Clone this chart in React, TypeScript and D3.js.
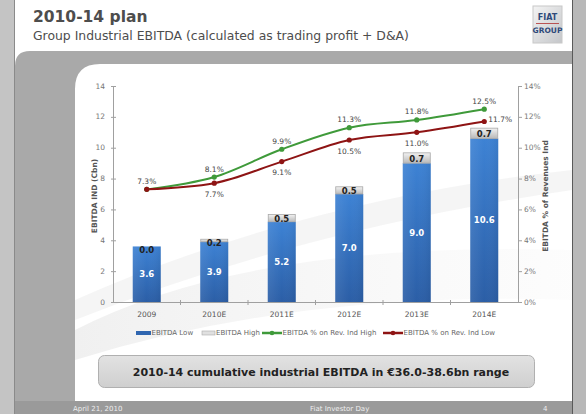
import React from "react";
import * as d3 from "d3";

const years = ["2009", "2010E", "2011E", "2012E", "2013E", "2014E"];
const ebitdaLow = [3.6, 3.9, 5.2, 7.0, 9.0, 10.6];
const ebitdaHigh = [0.0, 0.2, 0.5, 0.5, 0.7, 0.7];
const pctHigh = [7.3, 8.1, 9.9, 11.3, 11.8, 12.5];
const pctLow = [7.3, 7.7, 9.1, 10.5, 11.0, 11.7];
const leftTicks = [0, 2, 4, 6, 8, 10, 12, 14];
const rightTicks = [0, 2, 4, 6, 8, 10, 12, 14];

const W = 586;
const H = 414;
const FONT = "'DejaVu Sans', Verdana, sans-serif";

export default function App() {
  const x = d3
    .scaleBand<string>()
    .domain(years)
    .range([113, 518])
    .paddingInner(0.585)
    .paddingOuter(0.2925);
  const yL = d3.scaleLinear().domain([0, 14]).range([302, 86]);
  const yR = d3.scaleLinear().domain([0, 14]).range([302, 86]);
  const cx = (y: string) => (x(y) as number) + x.bandwidth() / 2;

  const line = d3
    .line<number>()
    .x((_, i) => cx(years[i]))
    .y((d) => yR(d))
    .curve(d3.curveMonotoneX);

  const green = "#3f9a3a";
  const red = "#8e1414";

  return (
    <svg
      width={W}
      height={H}
      style={{ position: "absolute", left: 0, top: 0, display: "block" }}
      fontFamily={FONT}
    >
      <defs>
        <linearGradient id="blue" x1="0" y1="0" x2="0" y2="1">
          <stop offset="0" stopColor="#3d82d4" />
          <stop offset="1" stopColor="#2b5ea6" />
        </linearGradient>
        <linearGradient id="blueH" x1="0" y1="0" x2="1" y2="0">
          <stop offset="0" stopColor="#ffffff" stopOpacity="0.08" />
          <stop offset="0.5" stopColor="#ffffff" stopOpacity="0" />
          <stop offset="1" stopColor="#000000" stopOpacity="0.06" />
        </linearGradient>
        <linearGradient id="grayBar" x1="0" y1="0" x2="0" y2="1">
          <stop offset="0" stopColor="#f2f2f2" />
          <stop offset="1" stopColor="#b9b9b9" />
        </linearGradient>
        <linearGradient id="boxG" x1="0" y1="0" x2="0" y2="1">
          <stop offset="0" stopColor="#e2e2e2" />
          <stop offset="1" stopColor="#cfcfcf" />
        </linearGradient>
        <linearGradient id="logoG" x1="0" y1="0" x2="1" y2="1">
          <stop offset="0" stopColor="#f4f4f4" />
          <stop offset="1" stopColor="#c4c6c9" />
        </linearGradient>
        <linearGradient id="swoosh" x1="0" y1="0" x2="1" y2="0">
          <stop offset="0" stopColor="#d8d8d8" stopOpacity="0.7" />
          <stop offset="1" stopColor="#e8e8e8" stopOpacity="0.2" />
        </linearGradient>
      </defs>

      {/* outer frame */}
      <rect x={0} y={0} width={W} height={H} fill="#c4c4c4" />
      <rect x={14} y={0} width={558} height={H} fill="#ffffff" />
      <line x1={14.5} y1={0} x2={14.5} y2={H} stroke="#8a8a8a" />
      <rect x={572} y={0} width={14} height={H} fill="#b8b8b8" />
      <line x1={572.5} y1={0} x2={572.5} y2={H} stroke="#5a5a5a" />

      {/* gray band with rounded corner */}
      <path
        d="M15,401 L15,66 Q15,51 30,51 L572,51 L572,64 L100,64 Q75,64 75,89 L75,401 Z"
        fill="#a9a9a9"
      />
      {/* content swooshes */}
      <path
        d="M75,330 Q250,240 572,250 L572,300 Q300,290 75,360 Z"
        fill="url(#swoosh)"
        opacity={0.55}
      />
      <path
        d="M75,300 Q300,200 572,170 L572,190 Q300,230 75,320 Z"
        fill="#eeeeee"
        opacity={0.6}
      />
      {/* footer band */}
      <rect x={15} y={401} width={557} height={13} fill="#9a9a9a" />
      <text x={73} y={411} fontSize={7} fill="#eeeeee">
        April 21, 2010
      </text>
      <text x={310} y={411} fontSize={7} fill="#eeeeee">
        Fiat Investor Day
      </text>
      <text x={543} y={411} fontSize={7} fill="#eeeeee">
        4
      </text>

      {/* header */}
      <text x={33} y={22} fontSize={15.5} fontWeight="bold" fill="#4d4d4d">
        2010-14 plan
      </text>
      <text x={33} y={40} fontSize={12.4} fill="#4d4d4d">
        Group Industrial EBITDA (calculated as trading profit + D&amp;A)
      </text>
      {/* logo */}
      <rect x={533} y={6} width={29} height={37} fill="url(#logoG)" stroke="#c8c8c8" />
      <text x={547.5} y={20} fontSize={8} fontWeight="bold" fill="#2f4a7a" textAnchor="middle">
        FIAT
      </text>
      <line x1={536} y1={23.5} x2={559} y2={23.5} stroke="#b03030" strokeWidth={0.8} />
      <text x={547.5} y={33} fontSize={7.5} fontWeight="bold" fill="#2f4a7a" textAnchor="middle">
        GROUP
      </text>

      {/* axes */}
      <line x1={113.5} y1={86} x2={113.5} y2={302} stroke="#a0a0a0" />
      <line x1={518.5} y1={86} x2={518.5} y2={302} stroke="#a0a0a0" />
      <line x1={113} y1={302.5} x2={519} y2={302.5} stroke="#a0a0a0" />
      {leftTicks.map((t) => (
        <g key={"l" + t}>
          <line x1={111} x2={116} y1={yL(t) + 0.5} y2={yL(t) + 0.5} stroke="#a0a0a0" />
          <text x={105} y={yL(t)} fontSize={7.5} fill="#777" textAnchor="end" dominantBaseline="central">
            {t}
          </text>
        </g>
      ))}
      {rightTicks.map((t) => (
        <g key={"r" + t}>
          <line x1={518} x2={522} y1={yR(t) + 0.5} y2={yR(t) + 0.5} stroke="#a0a0a0" />
          <text x={524} y={yR(t)} fontSize={7.5} fill="#777" dominantBaseline="central">
            {t}%
          </text>
        </g>
      ))}
      {years.slice(1).map((yr) => {
        const bx = (x(yr) as number) - (x.step() - x.bandwidth()) / 2;
        return (
          <line key={"xt" + yr} x1={bx} x2={bx} y1={300} y2={305} stroke="#a0a0a0" />
        );
      })}
      {years.map((yr) => (
        <text key={"xl" + yr} x={cx(yr)} y={317} fontSize={7.5} fill="#555" textAnchor="middle">
          {yr}
        </text>
      ))}
      <text
        transform={`translate(94,196) rotate(-90)`}
        fontSize={7.5}
        fontWeight="bold"
        fill="#555"
        textAnchor="middle"
        dominantBaseline="central"
      >
        EBITDA IND (Cbn)
      </text>
      <text
        transform={`translate(545,196) rotate(-90)`}
        fontSize={7.5}
        fontWeight="bold"
        fill="#555"
        textAnchor="middle"
        dominantBaseline="central"
      >
        EBITDA % of Revenues Ind
      </text>

      {/* bars */}
      {years.map((yr, i) => {
        const bx = x(yr) as number;
        const bw = x.bandwidth();
        const lowTop = yL(ebitdaLow[i]);
        const highTop = yL(ebitdaLow[i] + ebitdaHigh[i]);
        const hh = lowTop - highTop;
        const labY = Math.max(highTop + hh / 2 + 1, highTop + 4);
        return (
          <g key={"b" + yr}>
            <rect x={bx} y={lowTop} width={bw} height={302 - lowTop} fill="url(#blue)" />
            <rect x={bx} y={lowTop} width={bw} height={302 - lowTop} fill="url(#blueH)" />
            {hh > 0 && (
              <rect
                x={bx + 0.5}
                y={highTop + 0.5}
                width={bw - 1}
                height={hh - 0.5}
                fill="url(#grayBar)"
                stroke="#a8a8a8"
                strokeWidth={0.8}
              />
            )}
            <text
              x={bx + bw / 2}
              y={(lowTop + 302) / 2}
              fontSize={8.5}
              fontWeight="bold"
              fill="#ffffff"
              textAnchor="middle"
              dominantBaseline="central"
            >
              {ebitdaLow[i].toFixed(1)}
            </text>
            <text
              x={bx + bw / 2}
              y={labY}
              fontSize={8.5}
              fontWeight="bold"
              fill="#222"
              textAnchor="middle"
              dominantBaseline="central"
            >
              {ebitdaHigh[i].toFixed(1)}
            </text>
          </g>
        );
      })}

      {/* lines */}
      <path d={line(pctHigh) as string} fill="none" stroke={green} strokeWidth={2} />
      <path d={line(pctLow) as string} fill="none" stroke={red} strokeWidth={2} />
      {pctHigh.map((v, i) => (
        <circle key={"gh" + i} cx={cx(years[i])} cy={yR(v)} r={2.6} fill={green} />
      ))}
      {pctLow.map((v, i) => (
        <circle key={"rl" + i} cx={cx(years[i])} cy={yR(v)} r={2.6} fill={red} />
      ))}
      {pctHigh.map((v, i) => (
        <text
          key={"ght" + i}
          x={cx(years[i])}
          y={yR(v) - 8}
          fontSize={7.5}
          fill="#444"
          textAnchor="middle"
          dominantBaseline="central"
        >
          {v.toFixed(1)}%
        </text>
      ))}
      {pctLow.map((v, i) =>
        i === 0 ? null : i === years.length - 1 ? (
          <text
            key={"rlt" + i}
            x={cx(years[i]) + 4}
            y={yR(v) - 2}
            fontSize={7.5}
            fill="#444"
            dominantBaseline="central"
          >
            {v.toFixed(1)}%
          </text>
        ) : (
          <text
            key={"rlt" + i}
            x={cx(years[i])}
            y={yR(v) + 11}
            fontSize={7.5}
            fill="#444"
            textAnchor="middle"
            dominantBaseline="central"
          >
            {v.toFixed(1)}%
          </text>
        )
      )}

      {/* legend */}
      <g fontSize={7} fill="#666">
        <rect x={136} y={331} width={15} height={4} fill="#2f66b0" />
        <text x={151.5} y={333} dominantBaseline="central">EBITDA Low</text>
        <rect x={202} y={331} width={13} height={4} fill="#e0e0e0" stroke="#aaa" strokeWidth={0.6} />
        <text x={216} y={333} dominantBaseline="central">EBITDA High</text>
        <line x1={262} x2={282} y1={333} y2={333} stroke={green} strokeWidth={2.5} />
        <circle cx={272} cy={333} r={2.3} fill={green} />
        <text x={282.5} y={333} dominantBaseline="central">EBITDA % on Rev. Ind High</text>
        <line x1={383} x2={403} y1={333} y2={333} stroke={red} strokeWidth={2.5} />
        <circle cx={393} cy={333} r={2.3} fill={red} />
        <text x={403.5} y={333} dominantBaseline="central">EBITDA % on Rev. Ind Low</text>
      </g>

      {/* summary box */}
      <rect x={98.5} y={355.5} width={436} height={32} rx={6} fill="url(#boxG)" stroke="#b0b0b0" />
      <text
        x={321}
        y={372}
        fontSize={11}
        fontWeight="bold"
        fill="#222"
        textAnchor="middle"
        dominantBaseline="central"
      >
        2010-14 cumulative industrial EBITDA in €36.0-38.6bn range
      </text>
    </svg>
  );
}
